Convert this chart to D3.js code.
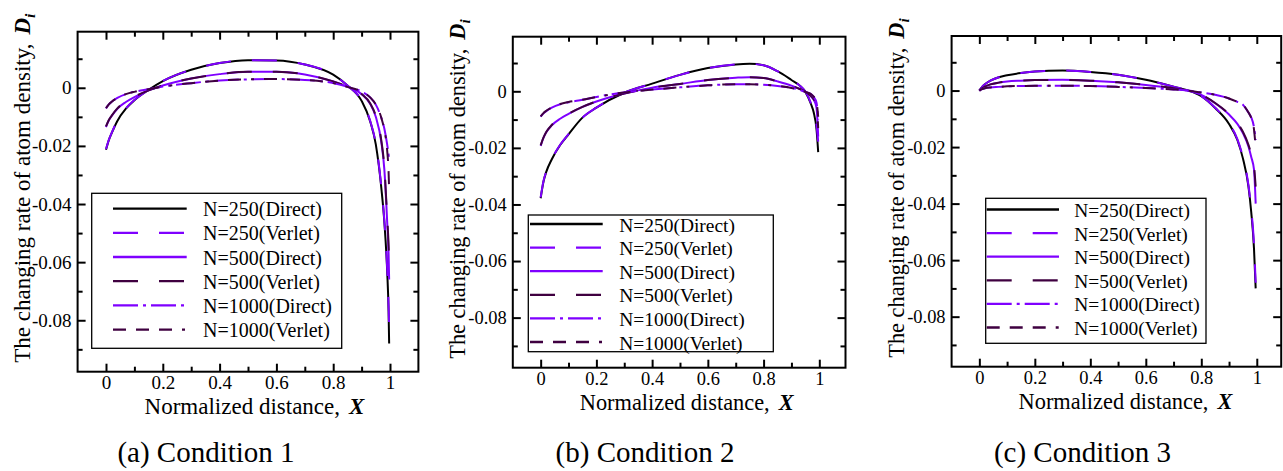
<!DOCTYPE html>
<html><head><meta charset="utf-8">
<script src="https://cdn.jsdelivr.net/npm/d3@7"></script>
<style>
body{margin:0;background:#fff}
svg{display:block}
text{font-family:"Liberation Serif","Times New Roman",serif;fill:#000}
</style>
</head><body>
<svg id="chart" width="1283" height="471"></svg>
<script>
// ---------- DATA ----------
const seriesNames = ["N=250(Direct)","N=250(Verlet)","N=500(Direct)","N=500(Verlet)","N=1000(Direct)","N=1000(Verlet)"];
const captions = ["(a) Condition 1","(b) Condition 2","(c) Condition 3"];
const xTickMajor = [0,0.2,0.4,0.6,0.8,1];
const xTickMinor = [0.1,0.3,0.5,0.7,0.9];
const yTickMajor = [0,-0.02,-0.04,-0.06,-0.08];
const yTickMinor = [0.01,-0.01,-0.03,-0.05,-0.07,-0.09];

// Condition 1
const xA = [0,0.01,0.02,0.04,0.07,0.1,0.15,0.2,0.3,0.4,0.5,0.6,0.7,0.8,0.85,0.9,0.93,0.95,0.97,0.98,0.99,0.995,0.997];
const a250D  = [-0.0213,-0.0180,-0.0156,-0.0114,-0.0072,-0.0043,-0.0007,0.0023,0.0062,0.0085,0.0095,0.0094,0.0080,0.0045,0.0008,-0.0045,-0.0115,-0.0195,-0.0350,-0.0460,-0.0630,-0.0770,-0.0880];
const a250V  = [-0.0211,-0.0179,-0.0155,-0.0113,-0.0071,-0.0042,-0.0007,0.0023,0.0062,0.0085,0.0095,0.0094,0.0080,0.0045,0.0008,-0.0044,-0.0113,-0.0192,-0.0345,-0.0455,-0.0620,-0.0750,-0.0830];
const a500D  = [-0.0135,-0.0112,-0.0097,-0.0072,-0.0049,-0.0032,-0.0009,0.0008,0.0032,0.0047,0.0055,0.0055,0.0046,0.0022,0.0004,-0.0022,-0.0055,-0.0100,-0.0190,-0.0280,-0.0460,-0.0570,-0.0660];
const a500V  = [-0.0133,-0.0111,-0.0096,-0.0071,-0.0048,-0.0031,-0.0009,0.0008,0.0032,0.0047,0.0055,0.0055,0.0046,0.0022,0.0004,-0.0021,-0.0053,-0.0097,-0.0185,-0.0272,-0.0445,-0.0540,-0.0600];
const a1000D = [-0.0071,-0.0057,-0.0048,-0.0035,-0.0022,-0.0014,-0.0005,0.0004,0.0016,0.0025,0.0029,0.0030,0.0027,0.0016,0.0003,-0.0013,-0.0033,-0.0058,-0.0105,-0.0140,-0.0195,-0.0230,-0.0250];
const a1000V = [-0.0070,-0.0057,-0.0048,-0.0035,-0.0022,-0.0014,-0.0005,0.0004,0.0016,0.0025,0.0029,0.0030,0.0027,0.0016,0.0003,-0.0013,-0.0033,-0.0058,-0.0105,-0.0145,-0.0215,-0.0290,-0.0350];

// Condition 2
const xB = [0,0.01,0.02,0.04,0.07,0.1,0.15,0.2,0.3,0.4,0.5,0.6,0.7,0.75,0.8,0.85,0.9,0.93,0.95,0.97,0.98,0.99,0.996];
const b250D  = [-0.0378,-0.0320,-0.0285,-0.0240,-0.0190,-0.0152,-0.0093,-0.0058,-0.0005,0.0027,0.0058,0.0082,0.0095,0.0097,0.0092,0.0071,0.0040,0.0020,-0.0002,-0.0045,-0.0075,-0.0135,-0.0215];
const b250V  = [-0.0375,-0.0318,-0.0284,-0.0239,-0.0189,-0.0151,-0.0093,-0.0058,-0.0005,0.0027,0.0058,0.0082,0.0095,0.0097,0.0092,0.0071,0.0040,0.0020,-0.0001,-0.0042,-0.0070,-0.0120,-0.0178];
const b500D  = [-0.0193,-0.0165,-0.0145,-0.0120,-0.0097,-0.0080,-0.0055,-0.0036,-0.0008,0.0013,0.0026,0.0040,0.0048,0.0050,0.0047,0.0035,0.0020,0.0008,-0.0001,-0.0018,-0.0030,-0.0058,-0.0160];
const b500V  = [-0.0191,-0.0164,-0.0144,-0.0119,-0.0096,-0.0079,-0.0055,-0.0036,-0.0008,0.0013,0.0026,0.0040,0.0048,0.0050,0.0047,0.0035,0.0020,0.0008,-0.0001,-0.0017,-0.0028,-0.0052,-0.0130];
const b1000D = [-0.0090,-0.0078,-0.0070,-0.0058,-0.0046,-0.0039,-0.0030,-0.0020,-0.0004,0.0006,0.0014,0.0021,0.0025,0.0025,0.0023,0.0019,0.0012,0.0005,-0.0002,-0.0010,-0.0020,-0.0040,-0.0100];
const b1000V = [-0.0089,-0.0077,-0.0069,-0.0057,-0.0045,-0.0038,-0.0030,-0.0020,-0.0004,0.0006,0.0014,0.0021,0.0025,0.0025,0.0023,0.0019,0.0012,0.0005,-0.0002,-0.0010,-0.0019,-0.0038,-0.0090];

// Condition 3
const xC = [0,0.01,0.02,0.04,0.07,0.1,0.15,0.2,0.3,0.4,0.5,0.6,0.7,0.75,0.8,0.85,0.9,0.93,0.95,0.97,0.98,0.99,0.996];
const c250D  = [0,0.0013,0.0022,0.0035,0.0047,0.0054,0.0062,0.0067,0.0071,0.0066,0.0056,0.0038,0.0014,0.0001,-0.0020,-0.0062,-0.0118,-0.0175,-0.0240,-0.0340,-0.0430,-0.0560,-0.0700];
const c250V  = [0,0.0013,0.0022,0.0035,0.0047,0.0054,0.0062,0.0067,0.0071,0.0066,0.0056,0.0038,0.0014,0.0001,-0.0020,-0.0061,-0.0116,-0.0172,-0.0236,-0.0335,-0.0420,-0.0545,-0.0680];
const c500D  = [0,0.0008,0.0014,0.0022,0.0028,0.0032,0.0035,0.0037,0.0038,0.0035,0.0029,0.0020,0.0008,0.0000,-0.0015,-0.0045,-0.0085,-0.0118,-0.0150,-0.0198,-0.0235,-0.0280,-0.0400];
const c500V  = [0,0.0008,0.0014,0.0022,0.0028,0.0032,0.0035,0.0037,0.0038,0.0035,0.0029,0.0020,0.0008,0.0000,-0.0015,-0.0044,-0.0083,-0.0115,-0.0146,-0.0192,-0.0225,-0.0268,-0.0340];
const c1000D = [0,0.0005,0.0008,0.0011,0.0013,0.0015,0.0016,0.0017,0.0017,0.0016,0.0013,0.0009,0.0004,0.0000,-0.0007,-0.0015,-0.0028,-0.0040,-0.0050,-0.0078,-0.0095,-0.0130,-0.0175];
const c1000V = [0,0.0005,0.0008,0.0011,0.0013,0.0015,0.0016,0.0017,0.0017,0.0016,0.0013,0.0009,0.0004,0.0000,-0.0007,-0.0015,-0.0028,-0.0040,-0.0050,-0.0078,-0.0097,-0.0138,-0.0200];

// ---------- STYLE / LAYOUT ----------
const PURPLE = "#7f00ff", DARK = "#3f0040";
const lineStyles = [
  {color:"#000000", dash:null},
  {color:PURPLE, dash:"25,21"},
  {color:PURPLE, dash:null},
  {color:DARK, dash:"25,21"},
  {color:PURPLE, dash:"25,5,3,5"},
  {color:DARK, dash:"13,10,13,10,13,10,3,10"}
];

const panels = [
  {x:xA, ys:[a250D,a250V,a500D,a500V,a1000D,a1000V], s:1,
   frame:{l:77.6,r:418.4,t:31.7,b:371.7}, xDom:[-0.1,1.1],
   legend:{x:91.7,y:193.3,w:250,h:155,row0:208.6,dy:24.2,lx0:113,lx1:186.7,tx:203},
   cap:{x:206,y:462}},
  {x:xB, ys:[b250D,b250V,b500D,b500V,b1000D,b1000V], s:0.972,
   frame:{l:512.8,r:845.5,t:36.7,b:367.7}, xDom:[-0.1,1.094],
   legend:{x:528.3,y:215,w:245,h:136.7,row0:224,dy:23.6,lx0:530,lx1:602.7,tx:619.3},
   cap:{x:645,y:462}},
  {x:xC, ys:[c250D,c250V,c500D,c500V,c1000D,c1000V], s:0.972,
   frame:{l:951.6,r:1281.2,t:36,b:366.7}, xDom:[-0.1,1.088],
   legend:{x:985.7,y:198.3,w:220.3,h:145,row0:209.5,dy:23.6,lx0:986.7,lx1:1059,tx:1074.3},
   cap:{x:1082.5,y:462}}
];
const yDom = [-0.0977, 0.0193];

const svg = d3.select("#chart");

panels.forEach((p, pi) => {
  const f = p.frame;
  const x = d3.scaleLinear().domain(p.xDom).range([f.l, f.r]);
  const y = d3.scaleLinear().domain(yDom).range([f.b, f.t]);
  const g = svg.append("g");
  const tickFs = 19 * p.s, titleFs = 23 * p.s, legFs = 20 * p.s;

  // curves
  const line = d3.line().x(d => x(d[0])).y(d => y(d[1])).curve(d3.curveMonotoneX);
  p.ys.forEach((vals, si) => {
    const pts = p.x.map((xv, i) => [xv, vals[i]]);
    g.append("path").datum(pts)
      .attr("d", line)
      .attr("fill", "none")
      .attr("stroke", lineStyles[si].color)
      .attr("stroke-width", 2)
      .attr("stroke-dasharray", lineStyles[si].dash)
      .attr("stroke-linecap", "butt");
  });

  // axes (inward ticks, mirrored)
  const styleAxis = sel => {
    sel.attr("font-family", null).attr("font-size", null);
    sel.select(".domain").remove();
    sel.selectAll(".tick line").attr("stroke", "#000").attr("stroke-width", 2);
    sel.selectAll("text").style("font-size", tickFs + "px").attr("fill", "#000")
       .style("font-family", '"Liberation Serif","Times New Roman",serif');
  };
  g.append("g").attr("transform", `translate(0,${f.b})`)
    .call(d3.axisBottom(x).tickValues(xTickMajor).tickSize(-8).tickPadding(4)
      .tickFormat(d => String(+d.toFixed(1))))
    .call(styleAxis);
  g.append("g").attr("transform", `translate(0,${f.b})`)
    .call(d3.axisBottom(x).tickValues(xTickMinor).tickSize(-5).tickFormat(""))
    .call(styleAxis);
  g.append("g").attr("transform", `translate(0,${f.t})`)
    .call(d3.axisTop(x).tickValues(xTickMajor).tickSize(-8).tickFormat(""))
    .call(styleAxis);
  g.append("g").attr("transform", `translate(0,${f.t})`)
    .call(d3.axisTop(x).tickValues(xTickMinor).tickSize(-5).tickFormat(""))
    .call(styleAxis);
  g.append("g").attr("transform", `translate(${f.l},0)`)
    .call(d3.axisLeft(y).tickValues(yTickMajor).tickSize(-8).tickPadding(6)
      .tickFormat(d => d === 0 ? "0" : d.toFixed(2)))
    .call(styleAxis);
  g.append("g").attr("transform", `translate(${f.l},0)`)
    .call(d3.axisLeft(y).tickValues(yTickMinor).tickSize(-5).tickFormat(""))
    .call(styleAxis);
  g.append("g").attr("transform", `translate(${f.r},0)`)
    .call(d3.axisRight(y).tickValues(yTickMajor).tickSize(-8).tickFormat(""))
    .call(styleAxis);
  g.append("g").attr("transform", `translate(${f.r},0)`)
    .call(d3.axisRight(y).tickValues(yTickMinor).tickSize(-5).tickFormat(""))
    .call(styleAxis);

  // frame
  g.append("rect").attr("x", f.l).attr("y", f.t)
    .attr("width", f.r - f.l).attr("height", f.b - f.t)
    .attr("fill", "none").attr("stroke", "#000").attr("stroke-width", 2);

  // x title
  const xt = g.append("text").attr("x", f.l + 67).attr("y", f.b + 42)
    .style("font-size", titleFs + "px");
  xt.append("tspan").text("Normalized distance,");
  xt.append("tspan").attr("dx", 9).style("font-weight", "bold").style("font-style", "italic").text("X");

  // y title
  const yt = g.append("text")
    .attr("transform", `translate(${f.l - 48},${f.b - 9}) rotate(-90)`)
    .attr("text-anchor", "start")
    .style("font-size", titleFs + "px");
  yt.append("tspan").text("The changing rate of atom density,");
  yt.append("tspan").attr("dx", 9).style("font-weight", "bold").style("font-style", "italic").text("D");
  yt.append("tspan").attr("dy", 5).style("font-weight", "bold").style("font-style", "italic")
    .style("font-size", (titleFs * 0.68) + "px").text("i");

  // legend
  const L = p.legend;
  const lg = g.append("g");
  lg.append("rect").attr("x", L.x).attr("y", L.y).attr("width", L.w).attr("height", L.h)
    .attr("fill", "#fff").attr("stroke", "#000").attr("stroke-width", 1.3);
  seriesNames.forEach((name, si) => {
    const ry = L.row0 + si * L.dy;
    lg.append("line").attr("x1", L.lx0).attr("x2", L.lx1).attr("y1", ry).attr("y2", ry)
      .attr("stroke", lineStyles[si].color).attr("stroke-width", 2.3)
      .attr("stroke-dasharray", lineStyles[si].dash);
    lg.append("text").attr("x", L.tx).attr("y", ry + 7.5)
      .style("font-size", legFs + "px").text(name);
  });

  // caption
  svg.append("text").attr("x", p.cap.x).attr("y", p.cap.y)
    .attr("text-anchor", "middle").style("font-size", "29px").text(captions[pi]);
});
</script>
</body></html>
